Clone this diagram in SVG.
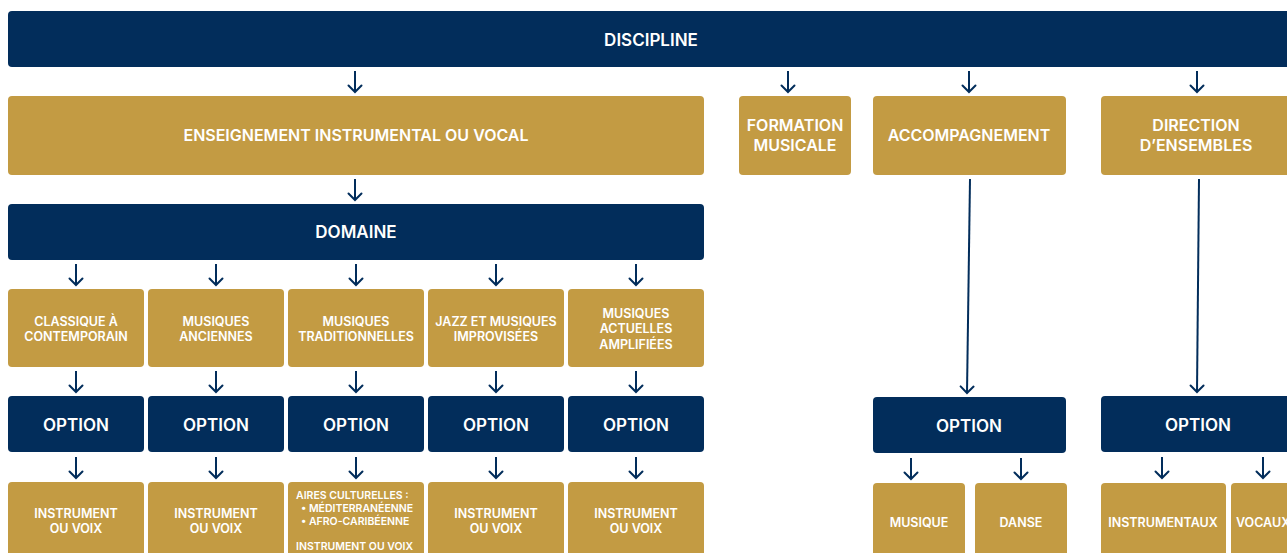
<svg xmlns="http://www.w3.org/2000/svg" width="1287" height="553" viewBox="0 0 1287 553">
<defs>
<style>
.n{fill:#022D5B}
.g{fill:#C39B43}
text{fill:#fff;font-family:Inter,"Noto Sans","Liberation Sans",sans-serif;font-weight:600;text-anchor:middle}
.t17{font-size:17px}
.t16{font-size:16px}
.t13{font-size:12.5px}
.t11{font-size:10.5px;text-anchor:start}
.c line{stroke:#022D5B;stroke-width:2;fill:none}
</style>
<marker id="a" viewBox="-10 -8 12 16" refX="0" refY="0" markerWidth="12" markerHeight="16" markerUnits="userSpaceOnUse" orient="auto" overflow="visible">
<path d="M-6.5,-6.5 L0,0 L-6.5,6.5" fill="none" stroke="#022D5B" stroke-width="2" stroke-linecap="round" stroke-linejoin="miter"/>
</marker>
</defs>
<rect width="1287" height="553" fill="#fff"/>
<g id="discipline"><rect class="n" x="8" y="11" width="1290" height="56" rx="4"/><text class="t17" x="651" y="46">DISCIPLINE</text></g>
<g id="enseignement"><rect class="g" x="8" y="96" width="696" height="79" rx="4"/><text class="t16" x="356" y="141">ENSEIGNEMENT INSTRUMENTAL OU VOCAL</text></g>
<g id="formation"><rect class="g" x="739" y="96" width="112" height="79" rx="4"/><text class="t16" x="795" y="131">FORMATION</text><text class="t16" x="795" y="151">MUSICALE</text></g>
<g id="accompagnement"><rect class="g" x="873" y="96" width="193" height="79" rx="4"/><text class="t16" x="969" y="141">ACCOMPAGNEMENT</text></g>
<g id="direction"><rect class="g" x="1101" y="96" width="195" height="79" rx="4"/><text class="t16" x="1196" y="131">DIRECTION</text><text class="t16" x="1196" y="151">D’ENSEMBLES</text></g>
<g id="domaine"><rect class="n" x="8" y="204" width="696" height="56" rx="4"/><text class="t17" x="356" y="238">DOMAINE</text></g>
<g id="classique"><rect class="g" x="8" y="289" width="136" height="78" rx="4"/><text class="t13" x="76" y="326">CLASSIQUE À</text><text class="t13" x="76" y="341">CONTEMPORAIN</text></g>
<g id="anciennes"><rect class="g" x="148" y="289" width="136" height="78" rx="4"/><text class="t13" x="216" y="326">MUSIQUES</text><text class="t13" x="216" y="341">ANCIENNES</text></g>
<g id="traditionnelles"><rect class="g" x="288" y="289" width="136" height="78" rx="4"/><text class="t13" x="356" y="326">MUSIQUES</text><text class="t13" x="356" y="341">TRADITIONNELLES</text></g>
<g id="jazz"><rect class="g" x="428" y="289" width="136" height="78" rx="4"/><text class="t13" x="496" y="326">JAZZ ET MUSIQUES</text><text class="t13" x="496" y="341">IMPROVISÉES</text></g>
<g id="actuelles"><rect class="g" x="568" y="289" width="136" height="78" rx="4"/><text class="t13" x="636" y="318">MUSIQUES</text><text class="t13" x="636" y="333">ACTUELLES</text><text class="t13" x="636" y="349">AMPLIFIÉES</text></g>
<g id="option1"><rect class="n" x="8" y="396" width="136" height="56" rx="4"/><text class="t17" x="76" y="431">OPTION</text></g>
<g id="option2"><rect class="n" x="148" y="396" width="136" height="56" rx="4"/><text class="t17" x="216" y="431">OPTION</text></g>
<g id="option3"><rect class="n" x="288" y="396" width="136" height="56" rx="4"/><text class="t17" x="356" y="431">OPTION</text></g>
<g id="option4"><rect class="n" x="428" y="396" width="136" height="56" rx="4"/><text class="t17" x="496" y="431">OPTION</text></g>
<g id="option5"><rect class="n" x="568" y="396" width="136" height="56" rx="4"/><text class="t17" x="636" y="431">OPTION</text></g>
<g id="option6"><rect class="n" x="873" y="397" width="193" height="56" rx="4"/><text class="t17" x="969" y="432">OPTION</text></g>
<g id="option7"><rect class="n" x="1101" y="396" width="195" height="56" rx="4"/><text class="t17" x="1198" y="431">OPTION</text></g>
<g id="voix1"><rect class="g" x="8" y="482" width="136" height="80" rx="4"/><text class="t13" x="76" y="518">INSTRUMENT</text><text class="t13" x="76" y="533">OU VOIX</text></g>
<g id="voix2"><rect class="g" x="148" y="482" width="136" height="80" rx="4"/><text class="t13" x="216" y="518">INSTRUMENT</text><text class="t13" x="216" y="533">OU VOIX</text></g>
<g id="aires"><rect class="g" x="288" y="482" width="136" height="80" rx="4"/><text class="t11" x="296" y="499">AIRES CULTURELLES :</text><text class="t11" x="301" y="512">•  MÉDITERRANÉENNE</text><text class="t11" x="301" y="525">•  AFRO-CARIBÉENNE</text><text class="t11" x="296" y="550">INSTRUMENT OU VOIX</text></g>
<g id="voix4"><rect class="g" x="428" y="482" width="136" height="80" rx="4"/><text class="t13" x="496" y="518">INSTRUMENT</text><text class="t13" x="496" y="533">OU VOIX</text></g>
<g id="voix5"><rect class="g" x="568" y="482" width="136" height="80" rx="4"/><text class="t13" x="636" y="518">INSTRUMENT</text><text class="t13" x="636" y="533">OU VOIX</text></g>
<g id="musique"><rect class="g" x="873" y="483" width="92" height="80" rx="4"/><text class="t13" x="919" y="527">MUSIQUE</text></g>
<g id="danse"><rect class="g" x="975" y="483" width="92" height="80" rx="4"/><text class="t13" x="1021" y="527">DANSE</text></g>
<g id="instrumentaux"><rect class="g" x="1101" y="483" width="125" height="80" rx="4"/><text class="t13" x="1163" y="527">INSTRUMENTAUX</text></g>
<g id="vocaux"><rect class="g" x="1231" y="483" width="70" height="80" rx="4"/><text class="t13" x="1236" y="527" style="text-anchor:start">VOCAUX</text></g>
<g id="connectors" class="c">
<line x1="355" y1="71" x2="355" y2="92" marker-end="url(#a)"/>
<line x1="788" y1="71" x2="788" y2="92" marker-end="url(#a)"/>
<line x1="969" y1="71" x2="969" y2="92" marker-end="url(#a)"/>
<line x1="1197" y1="71" x2="1197" y2="92" marker-end="url(#a)"/>
<line x1="355" y1="179" x2="355" y2="200" marker-end="url(#a)"/>
<line x1="76" y1="264" x2="76" y2="285" marker-end="url(#a)"/>
<line x1="216" y1="264" x2="216" y2="285" marker-end="url(#a)"/>
<line x1="356" y1="264" x2="356" y2="285" marker-end="url(#a)"/>
<line x1="496" y1="264" x2="496" y2="285" marker-end="url(#a)"/>
<line x1="636" y1="264" x2="636" y2="285" marker-end="url(#a)"/>
<line x1="76" y1="371" x2="76" y2="392" marker-end="url(#a)"/>
<line x1="216" y1="371" x2="216" y2="392" marker-end="url(#a)"/>
<line x1="356" y1="371" x2="356" y2="392" marker-end="url(#a)"/>
<line x1="496" y1="371" x2="496" y2="392" marker-end="url(#a)"/>
<line x1="636" y1="371" x2="636" y2="392" marker-end="url(#a)"/>
<line x1="970" y1="179" x2="967" y2="393" marker-end="url(#a)"/>
<line x1="1199" y1="179" x2="1197" y2="392" marker-end="url(#a)"/>
<line x1="76" y1="457" x2="76" y2="478" marker-end="url(#a)"/>
<line x1="216" y1="457" x2="216" y2="478" marker-end="url(#a)"/>
<line x1="356" y1="457" x2="356" y2="478" marker-end="url(#a)"/>
<line x1="496" y1="457" x2="496" y2="478" marker-end="url(#a)"/>
<line x1="636" y1="457" x2="636" y2="478" marker-end="url(#a)"/>
<line x1="911" y1="458" x2="911" y2="479" marker-end="url(#a)"/>
<line x1="1021" y1="458" x2="1021" y2="479" marker-end="url(#a)"/>
<line x1="1162" y1="457" x2="1162" y2="478" marker-end="url(#a)"/>
<line x1="1263" y1="457" x2="1263" y2="478" marker-end="url(#a)"/>
</g>
</svg>
